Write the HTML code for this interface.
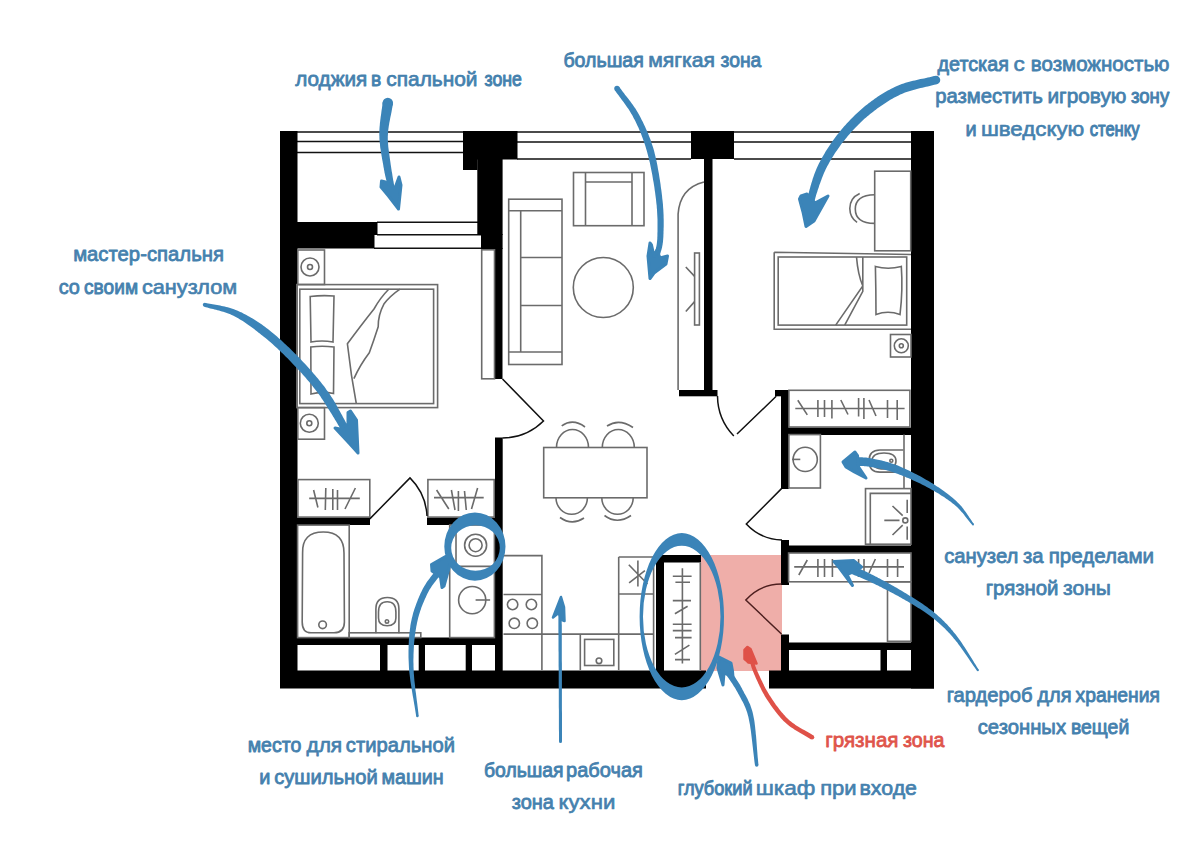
<!DOCTYPE html>
<html><head><meta charset="utf-8">
<style>
html,body{margin:0;padding:0;background:#fff;width:1203px;height:865px;overflow:hidden}
svg{display:block}
.t{font-family:"Liberation Sans",sans-serif;font-weight:normal;font-size:21px;fill:#4581ae;stroke:#4581ae;stroke-width:0.8;stroke-linejoin:round}
.f{fill:none;stroke:#6b6b6b;stroke-width:1.6}
.d{fill:none;stroke:#111;stroke-width:1.5}
.w{fill:#000}
.t.r{fill:#df544b;stroke:#df544b}
.a{fill:none;stroke:#3b84b8;stroke-linecap:round;stroke-linejoin:round}
</style></head><body>
<svg width="1203" height="865" viewBox="0 0 1203 865">
<rect width="1203" height="865" fill="#fff"/>

<!-- pink dirty zone -->
<rect x="701" y="555" width="81" height="116" fill="#efaea9"/>

<!-- WINDOW LINES -->
<g stroke="#111" stroke-width="1.4" fill="none">
<path d="M297 132H463M297 141.5H463M297 152.5H463"/>
<path d="M517 132H691M517 142H691M517 159H691"/>
<path d="M734 132H911M734 142H911M734 159H911"/>
<path d="M377 222.3H478M377 234.7H481M374 248.3H495"/>
</g>

<!-- WALLS -->
<g class="w">
<rect x="280" y="131" width="17.5" height="557"/>
<rect x="463" y="131" width="54.5" height="28.5"/>
<rect x="463" y="131" width="14.5" height="39"/>
<rect x="477.3" y="131" width="25.3" height="104"/>
<rect x="481" y="234" width="21.6" height="15"/>
<rect x="494.5" y="248" width="8" height="131"/>
<rect x="297" y="222" width="80.5" height="13"/>
<rect x="297" y="234.5" width="77.5" height="14"/>
<rect x="691" y="131" width="43" height="28"/>
<rect x="704" y="158" width="8.5" height="238"/>
<rect x="679" y="390" width="38.5" height="6.3"/>
<rect x="911" y="131" width="23" height="557.5"/>
<rect x="775" y="390" width="14" height="6.3"/>
<rect x="781" y="390" width="8" height="99"/>
<rect x="781" y="427.5" width="130" height="7.5"/>
<rect x="781" y="540" width="8" height="45"/>
<rect x="781" y="545.5" width="130" height="7.5"/>
<rect x="781" y="634.5" width="8" height="40"/>
<rect x="781" y="642.5" width="130" height="7.5"/>
<rect x="880.5" y="649" width="6.5" height="23"/>
<rect x="280" y="670.5" width="426" height="18"/>
<rect x="769" y="670.5" width="165" height="18"/>
<rect x="495" y="437.5" width="7.7" height="234"/>
<rect x="297" y="517.5" width="73" height="7.5"/>
<rect x="427" y="517.5" width="68" height="7.5"/>
<rect x="297" y="637.5" width="198" height="7.5"/>
<rect x="380" y="644" width="7.5" height="27"/>
<rect x="418.7" y="644" width="6.3" height="27"/>
<rect x="465.7" y="644" width="6.3" height="27"/>
<rect x="656" y="555" width="45" height="7.5"/>
<rect x="656" y="555" width="8" height="116"/>
</g>


<!-- FURNITURE -->
<g class="f">
<!-- master bedroom -->
<rect x="297.8" y="250" width="26.7" height="34.5"/>
<circle cx="310" cy="267" r="9"/><circle cx="310" cy="267" r="2.5"/>
<rect x="296.8" y="284.6" width="140.8" height="123"/>
<rect x="299.8" y="289.2" width="133.8" height="114.4"/>
<path d="M310.2 296.5Q322 295 334 296L333 342Q322 340 311 342Z"/>
<path d="M310.8 347Q322 345.5 334 347L333.5 393.5Q322 391 311 394Z"/>
<path d="M388.7 289.2Q380 298 374 309Q362 324 347.4 343.8L351.5 375.3L356.3 403.6"/>
<path d="M400 289.2Q390 296 383.9 304.1Q378 315 378.2 326.8Q374 340 369.3 352.7Q360 365 353.9 378.6"/>
<rect x="297.8" y="407.6" width="26.7" height="31.6"/>
<circle cx="309.3" cy="423.3" r="9"/><circle cx="309.3" cy="423.3" r="2.5"/>
<rect x="481.7" y="249.8" width="12.8" height="129"/>
<!-- wardrobes master -->
<rect x="297.9" y="479.6" width="71.9" height="37.5"/>
<path d="M309.2 498.4H359.8M313.6 490L317.9 507.5M325.8 488L325.3 510M332.8 489V510M337.5 490V510M355.4 488L345 509"/>
<rect x="427.9" y="479.6" width="66.3" height="37.5"/>
<path d="M434 497.6H483.7M436.6 490L448.8 509M451.4 490L455 510M458.4 491V511M464.5 491L466.3 510M477.6 488L471.5 509"/>
<!-- master bath -->
<rect x="297.6" y="525.1" width="51.6" height="112.5"/>
<path d="M302.6 553Q302 532 323.3 532Q344 532 344 553L344.4 622Q344.4 632.8 334 632.8H311Q302.2 632.8 302.2 622Z"/>
<circle cx="322.6" cy="624.8" r="3.8"/>
<path d="M375.9 633.3V609Q375.9 597.5 387.4 597.5Q398.9 597.5 398.9 609V633.3"/>
<path d="M378.5 612Q378.5 601.8 387.2 601.8Q395.9 601.8 395.9 612V618Q395.9 625.7 387.2 625.7Q378.5 625.7 378.5 618Z"/>
<circle cx="387" cy="621.4" r="1.7"/>
<rect x="349.2" y="632.8" width="71.6" height="4.8"/>
<rect x="449.7" y="525" width="44.7" height="112.6"/>
<path d="M449.7 566.4H494.4M456 525V566.4"/>
<circle cx="475.6" cy="545.2" r="11"/><circle cx="475.6" cy="545.2" r="6.5"/>
<circle cx="472.2" cy="600.1" r="13.6"/>
<path d="M475.6 600H490.1"/>
<!-- living -->
<rect x="508.7" y="199.2" width="53.3" height="165.3"/>
<path d="M508.7 210.7H562M508.7 352H562M520.7 210.7V352M520.7 257.5H562M520.7 305.5H562"/>
<rect x="573.5" y="172.5" width="70.5" height="53.2"/>
<path d="M585.5 172.5V225.7M632 172.5V225.7M585.5 182H632"/>
<circle cx="603.3" cy="287.5" r="30"/>
<path d="M678.1 390V214Q680 188 704 182"/>
<rect x="694.6" y="253" width="4.8" height="72"/>
<path d="M685.8 267L694.6 276.4M685.8 311.5L694.6 301.6"/>
<!-- dining -->
<rect x="543.7" y="447.5" width="103.3" height="50.3"/>
<path d="M556.5 447.5A16 18 0 0 1 588.5 447.5"/>
<path d="M602.3 447.5A16 18 0 0 1 634.3 447.5"/>
<path d="M561.7 425.8Q573 418 585 427M607 426Q619 418 633 427.5"/>
<path d="M556 497.8A15.7 16.5 0 0 0 587.4 497.8"/>
<path d="M601.8 497.8A15.7 16.5 0 0 0 633.2 497.8"/>
<path d="M560 517.5Q572 526 584 518M604.5 515.5Q617 525 631 515.5"/>
<!-- kids room -->
<rect x="874.7" y="171.2" width="36" height="79.6"/>
<path d="M874.7 194.7Q855.3 195 855.3 209Q855.3 223.4 874.7 223.4"/>
<path d="M859.7 193.5Q849.8 198 849.8 208.6Q850 218 857.1 222.4"/>
<path d="M774.2 252.2L911 254.5M774.2 252.2V329.3H911"/>
<rect x="778.2" y="257" width="128.5" height="68.1"/>
<path d="M875.4 266.4Q888 270 901.3 266.4Q903 290 900 314.6Q888 310 876 314.6Q876 290 875.4 266.4Z"/>
<path d="M856.5 257Q858 275 862.8 286L835.7 325.1M862.8 257V291.4L844.7 325.1"/>
<rect x="890.5" y="334.5" width="20.5" height="22.5"/>
<circle cx="901.3" cy="345.8" r="7"/><circle cx="901.3" cy="345.8" r="2"/>
<rect x="788.9" y="390.3" width="121" height="36.7"/>
<path d="M795.3 408.5H904.6M797.8 400.3L807.3 414.9M817.9 400V417M824.5 400V417M831.9 400V418.5M840.8 400L848 414.5M858.6 398V416.5M863.9 398V419M869 400L876 416M887.5 400V418M897.2 400V420"/>
<!-- hall bath -->
<rect x="788.9" y="434.6" width="31.5" height="53.4"/>
<circle cx="805.2" cy="459.4" r="12.1"/>
<path d="M792 459.4H800.3"/>
<path d="M903.4 450H880Q869 450 869 461Q869 472.1 880 472.1H903.4"/>
<path d="M896 461Q896 453 884 453Q872 453 872 461Q872 469 884 469Q896 469 896 461Z"/>
<circle cx="891.3" cy="460.7" r="1.5"/>
<path d="M904 434.6V488"/>
<rect x="865.5" y="488.6" width="45.5" height="55.6"/>
<path d="M870.3 544.2V493.4H911"/>
<circle cx="905.3" cy="520.4" r="2.5"/>
<path d="M884.3 520.4H899.5M892.5 506L902.7 515.6M892.5 535L902.7 525.1M907.2 499.7V513M907.2 526.4V539.8"/>
<rect x="788.6" y="553" width="122.4" height="28.8"/>
<path d="M794.2 566.9H904M807.3 560L798.8 575M817.9 559V577M824.5 559V577M832.4 559V577M858.6 559V577M864 559V577M875.4 559L869 573M887.5 559V577M897.6 559V577"/>
<rect x="887.5" y="581.8" width="23.5" height="59.5"/>
<!-- kitchen -->
<path d="M503.5 555.6H541.9V670M503.5 594.5H541.9M503.5 634.1H653.6M580.3 634.1V670M618.7 557V670M618.7 557H653.6V670M618.7 594H653.6"/>
<circle cx="512.6" cy="604.5" r="5.2"/><circle cx="531.4" cy="604.5" r="5.2"/>
<circle cx="514.3" cy="623.3" r="5.2"/><circle cx="532.3" cy="623.3" r="5.2"/>
<rect x="584.6" y="639.4" width="29.2" height="26.1"/>
<circle cx="599" cy="660.8" r="2.8"/>
<path d="M637.9 560.5V586.6M628.8 564.8L647.5 584M629.1 582.8L644.9 570.6"/>
<!-- closet -->
<path d="M700.3 562.6V670"/>
<path d="M682.4 568.3V663.4M672.8 576.2H691.6M675.4 582.3H690M672.8 600.6H691M674.9 613.7L687.6 606.2M672.8 624.2H691.6M672.8 630.6H691.6M675 637.6H691.6M674.9 654.4L689.4 645.1M675 659.6H690"/>
</g>
<!-- DOORS -->
<g class="d">
<path d="M502.5 379L543.5 421A59 59 0 0 1 502.5 438"/>
<path d="M369.8 518.9L410 477.9A57.4 57.4 0 0 1 427 516"/>
<path d="M717.5 396A58.5 58.5 0 0 0 733.8 436M737 434L776.2 396.3"/>
<path d="M781.5 488.6L746.3 524A50.5 50.5 0 0 0 782 540"/>
<path d="M781.5 584A48.5 48.5 0 0 0 745.8 600L781.5 634" stroke="#4d1f1f"/>
</g>

<!-- ARROWS -->
<g fill="#3b84b8">
<path d="M382.6 102.3 L382.4 103.9 L382.3 105.4 L382.1 107.0 L381.9 108.6 L381.6 110.2 L381.4 111.8 L381.2 113.5 L381.0 115.1 L380.7 116.7 L380.5 118.4 L380.3 120.0 L380.1 121.7 L379.9 123.3 L379.8 125.0 L379.6 126.7 L379.5 128.3 L379.4 130.0 L379.4 131.6 L379.3 133.3 L379.3 134.9 L379.4 136.6 L379.4 138.2 L379.5 139.8 L379.7 141.5 L379.8 143.1 L380.0 144.7 L380.1 146.3 L380.3 147.9 L380.6 149.4 L380.8 151.0 L381.0 152.5 L381.3 154.0 L381.5 155.6 L381.8 157.0 L382.0 158.5 L382.3 160.0 L382.6 161.4 L382.8 162.8 L383.1 164.2 L383.3 165.6 L383.5 167.0 L383.8 168.3 L384.0 169.7 L384.3 171.1 L384.5 172.5 L384.8 173.8 L385.1 175.2 L385.4 176.5 L385.7 177.8 L386.0 179.1 L386.3 180.4 L386.6 181.7 L386.9 182.9 L387.2 184.1 L387.5 185.3 L387.8 186.4 L388.1 187.6 L388.4 188.7 L388.7 189.7 L389.0 190.7 L389.3 191.7 L389.6 192.7 L389.9 193.6 L390.2 194.5 L390.5 195.3 L390.8 196.1 L391.1 196.9 L391.3 197.6 L391.6 198.4 L391.9 199.1 L392.2 199.8 L392.5 200.4 L392.7 201.1 L393.0 201.7 L393.3 202.4 L393.6 203.1 L393.8 203.7 L394.1 204.4 L394.4 205.1 L394.6 205.8 L399.4 204.2 L399.1 203.4 L398.9 202.7 L398.7 202.0 L398.4 201.3 L398.2 200.6 L398.0 199.9 L397.8 199.2 L397.5 198.5 L397.3 197.9 L397.1 197.2 L396.9 196.5 L396.7 195.8 L396.4 195.1 L396.2 194.3 L396.0 193.6 L395.8 192.8 L395.6 192.0 L395.4 191.1 L395.2 190.2 L395.0 189.3 L394.8 188.2 L394.5 187.2 L394.3 186.1 L394.1 185.0 L393.9 183.9 L393.7 182.7 L393.5 181.5 L393.2 180.3 L393.0 179.0 L392.8 177.7 L392.6 176.5 L392.4 175.2 L392.2 173.8 L392.0 172.5 L391.7 171.2 L391.5 169.8 L391.3 168.5 L391.1 167.1 L390.9 165.8 L390.7 164.4 L390.5 163.0 L390.3 161.6 L390.1 160.2 L389.9 158.7 L389.7 157.3 L389.5 155.8 L389.3 154.3 L389.0 152.9 L388.9 151.4 L388.7 149.9 L388.5 148.4 L388.3 146.9 L388.2 145.4 L388.1 143.9 L388.0 142.4 L387.9 140.9 L387.8 139.5 L387.8 138.0 L387.8 136.5 L387.9 135.1 L388.0 133.6 L388.1 132.1 L388.2 130.6 L388.4 129.1 L388.6 127.6 L388.8 126.1 L389.1 124.6 L389.3 123.0 L389.6 121.4 L389.9 119.9 L390.2 118.3 L390.5 116.7 L390.9 115.1 L391.2 113.5 L391.5 111.9 L391.8 110.2 L392.1 108.6 L392.4 107.0 L392.7 105.3 L393.0 103.7Z"/>
<circle cx="387.8" cy="103" r="5.25"/>
<path d="M381.5 181 L385.5 182 L395 188 L399 177 L401 185 L398.5 209 L388.5 196 L381 187Z" stroke="#3b84b8" stroke-width="3" stroke-linejoin="round"/>
<path d="M614.8 90.1 L615.7 91.5 L616.7 92.9 L617.7 94.3 L618.7 95.6 L619.7 97.0 L620.7 98.3 L621.7 99.7 L622.7 101.0 L623.7 102.3 L624.7 103.7 L625.6 105.0 L626.6 106.4 L627.5 107.7 L628.5 109.1 L629.4 110.5 L630.3 111.9 L631.1 113.4 L632.0 114.8 L632.8 116.3 L633.6 117.9 L634.5 119.5 L635.3 121.1 L636.1 122.7 L636.8 124.3 L637.6 126.0 L638.4 127.6 L639.1 129.3 L639.8 131.0 L640.6 132.8 L641.3 134.5 L641.9 136.3 L642.6 138.1 L643.3 139.9 L643.9 141.8 L644.6 143.7 L645.2 145.6 L645.8 147.5 L646.4 149.5 L647.0 151.6 L647.5 153.6 L648.1 155.7 L648.7 157.9 L649.2 160.2 L649.8 162.5 L650.3 164.9 L650.8 167.4 L651.3 169.9 L651.8 172.4 L652.3 174.9 L652.7 177.5 L653.1 180.1 L653.6 182.6 L654.0 185.1 L654.4 187.6 L654.7 190.1 L655.1 192.5 L655.4 194.9 L655.7 197.2 L656.0 199.4 L656.2 201.5 L656.4 203.6 L656.7 205.7 L656.8 207.7 L657.0 209.8 L657.1 211.8 L657.2 213.8 L657.3 215.7 L657.4 217.6 L657.5 219.5 L657.5 221.4 L657.5 223.2 L657.5 225.0 L657.5 226.7 L657.5 228.4 L657.5 230.1 L657.5 231.7 L657.4 233.2 L657.4 234.7 L657.4 236.1 L657.3 237.5 L657.3 238.7 L657.2 239.9 L657.1 240.9 L657.0 241.9 L656.9 242.8 L656.8 243.7 L656.7 244.5 L656.6 245.2 L656.4 246.0 L656.3 246.7 L656.1 247.3 L656.0 248.0 L655.8 248.7 L655.6 249.4 L655.4 250.1 L655.2 250.9 L655.0 251.7 L654.8 252.5 L654.5 253.4 L654.3 254.3 L654.1 255.3 L653.9 256.2 L653.6 257.1 L653.4 258.1 L653.1 259.1 L652.8 260.0 L652.5 261.0 L652.2 262.0 L652.0 263.0 L651.7 264.1 L651.3 265.1 L651.0 266.1 L650.7 267.1 L650.4 268.1 L650.1 269.2 L649.8 270.2 L649.5 271.2 L649.2 272.2 L648.9 273.3 L648.6 274.3 L653.4 275.7 L653.7 274.7 L654.0 273.7 L654.4 272.7 L654.7 271.7 L655.0 270.7 L655.3 269.7 L655.7 268.7 L656.0 267.7 L656.4 266.6 L656.7 265.6 L657.0 264.6 L657.3 263.6 L657.7 262.6 L658.0 261.6 L658.3 260.6 L658.6 259.6 L658.9 258.6 L659.2 257.6 L659.4 256.6 L659.7 255.7 L659.9 254.8 L660.1 254.0 L660.4 253.2 L660.6 252.4 L660.8 251.7 L661.0 251.0 L661.3 250.2 L661.5 249.5 L661.7 248.8 L661.9 248.0 L662.1 247.2 L662.2 246.4 L662.4 245.5 L662.6 244.6 L662.7 243.6 L662.9 242.6 L663.0 241.5 L663.1 240.3 L663.2 239.1 L663.3 237.7 L663.4 236.3 L663.4 234.9 L663.5 233.4 L663.5 231.8 L663.6 230.2 L663.6 228.5 L663.7 226.8 L663.7 225.0 L663.7 223.2 L663.7 221.3 L663.7 219.4 L663.6 217.5 L663.6 215.5 L663.5 213.5 L663.4 211.4 L663.3 209.4 L663.1 207.3 L663.0 205.1 L662.8 203.0 L662.6 200.9 L662.3 198.7 L662.1 196.4 L661.8 194.1 L661.5 191.6 L661.2 189.2 L660.8 186.7 L660.5 184.1 L660.1 181.6 L659.7 179.0 L659.3 176.4 L658.9 173.8 L658.4 171.2 L657.9 168.6 L657.5 166.1 L657.0 163.6 L656.5 161.1 L655.9 158.7 L655.4 156.3 L654.8 154.0 L654.3 151.8 L653.7 149.6 L653.1 147.5 L652.4 145.5 L651.7 143.5 L651.1 141.5 L650.4 139.5 L649.6 137.6 L648.9 135.7 L648.2 133.8 L647.4 132.0 L646.6 130.2 L645.8 128.4 L645.1 126.7 L644.2 124.9 L643.4 123.2 L642.6 121.5 L641.7 119.9 L640.9 118.2 L640.0 116.6 L639.2 114.9 L638.2 113.3 L637.3 111.7 L636.4 110.2 L635.4 108.6 L634.4 107.2 L633.4 105.7 L632.4 104.3 L631.4 102.9 L630.4 101.5 L629.4 100.2 L628.3 98.8 L627.3 97.5 L626.3 96.2 L625.2 94.9 L624.2 93.6 L623.2 92.3 L622.2 90.9 L621.2 89.6 L620.2 88.3 L619.2 86.9Z"/>
<circle cx="617" cy="88.5" r="2.75"/>
<path d="M650 243 L651.5 245 L654 256 L657 250 L660 258 L667.5 256 L666 264 L654 273 L650 278.5 L648 256Z" stroke="#3b84b8" stroke-width="3" stroke-linejoin="round"/>
<path d="M934.9 75.9 L933.1 76.3 L931.4 76.8 L929.6 77.2 L927.8 77.6 L926.0 78.0 L924.1 78.4 L922.3 78.7 L920.4 79.1 L918.6 79.5 L916.7 79.9 L914.9 80.4 L913.0 80.8 L911.1 81.3 L909.3 81.8 L907.4 82.3 L905.5 82.8 L903.7 83.4 L901.8 84.1 L900.0 84.8 L898.2 85.5 L896.4 86.3 L894.7 87.1 L892.9 87.9 L891.2 88.8 L889.5 89.7 L887.8 90.6 L886.1 91.6 L884.4 92.5 L882.8 93.5 L881.1 94.5 L879.5 95.6 L877.9 96.6 L876.3 97.7 L874.7 98.8 L873.2 99.9 L871.6 101.0 L870.1 102.2 L868.6 103.3 L867.2 104.5 L865.7 105.6 L864.2 106.8 L862.8 108.0 L861.4 109.2 L860.0 110.5 L858.6 111.7 L857.2 113.0 L855.8 114.3 L854.5 115.6 L853.1 116.9 L851.8 118.2 L850.5 119.5 L849.2 120.9 L848.0 122.2 L846.7 123.6 L845.5 125.0 L844.2 126.3 L843.0 127.7 L841.9 129.1 L840.7 130.5 L839.5 131.9 L838.4 133.4 L837.2 134.8 L836.1 136.3 L835.0 137.8 L833.9 139.3 L832.8 140.8 L831.7 142.3 L830.6 143.9 L829.6 145.4 L828.6 147.0 L827.6 148.5 L826.6 150.1 L825.6 151.6 L824.7 153.2 L823.8 154.7 L822.9 156.3 L822.0 157.8 L821.2 159.3 L820.4 160.8 L819.6 162.3 L818.8 163.8 L818.1 165.3 L817.4 166.8 L816.7 168.3 L816.1 169.8 L815.5 171.3 L814.9 172.8 L814.3 174.2 L813.8 175.7 L813.3 177.2 L812.8 178.6 L812.4 180.0 L812.0 181.4 L811.5 182.8 L811.1 184.2 L810.7 185.6 L810.3 186.9 L810.0 188.3 L809.6 189.6 L809.2 190.9 L808.9 192.2 L808.5 193.5 L808.2 194.7 L807.9 196.0 L807.6 197.2 L807.4 198.4 L807.2 199.6 L806.9 200.8 L806.7 201.9 L806.5 203.1 L806.3 204.2 L806.1 205.4 L805.9 206.5 L805.8 207.6 L805.6 208.7 L805.4 209.8 L805.2 210.9 L805.0 212.0 L804.8 213.1 L804.6 214.3 L811.4 215.7 L811.7 214.6 L811.9 213.4 L812.2 212.3 L812.4 211.1 L812.7 210.0 L812.9 208.9 L813.1 207.8 L813.4 206.7 L813.6 205.6 L813.8 204.5 L814.0 203.4 L814.3 202.3 L814.5 201.2 L814.8 200.1 L815.1 199.0 L815.4 197.8 L815.7 196.7 L816.0 195.5 L816.4 194.3 L816.8 193.1 L817.2 191.9 L817.6 190.6 L818.0 189.3 L818.5 188.0 L818.9 186.7 L819.3 185.3 L819.8 184.0 L820.3 182.7 L820.8 181.3 L821.3 180.0 L821.8 178.6 L822.3 177.2 L822.8 175.9 L823.4 174.5 L824.0 173.1 L824.6 171.8 L825.2 170.4 L825.8 169.0 L826.5 167.7 L827.2 166.3 L828.0 164.9 L828.8 163.5 L829.6 162.1 L830.4 160.6 L831.3 159.2 L832.1 157.7 L833.1 156.3 L834.0 154.8 L834.9 153.3 L835.9 151.8 L836.9 150.4 L837.9 148.9 L839.0 147.5 L840.0 146.0 L841.0 144.6 L842.1 143.1 L843.2 141.7 L844.3 140.4 L845.4 139.0 L846.5 137.7 L847.6 136.3 L848.7 135.0 L849.9 133.7 L851.0 132.3 L852.2 131.0 L853.4 129.7 L854.6 128.5 L855.8 127.2 L857.1 125.9 L858.3 124.7 L859.6 123.4 L860.8 122.2 L862.1 121.0 L863.4 119.8 L864.7 118.6 L866.1 117.4 L867.4 116.3 L868.8 115.2 L870.1 114.1 L871.5 113.0 L872.9 111.9 L874.3 110.8 L875.8 109.7 L877.2 108.6 L878.7 107.6 L880.2 106.5 L881.7 105.5 L883.2 104.5 L884.7 103.5 L886.2 102.5 L887.7 101.5 L889.2 100.6 L890.8 99.6 L892.3 98.7 L893.9 97.8 L895.5 97.0 L897.0 96.2 L898.6 95.4 L900.2 94.6 L901.8 93.9 L903.4 93.2 L905.0 92.6 L906.6 92.0 L908.3 91.4 L910.0 90.9 L911.7 90.4 L913.4 89.9 L915.2 89.4 L916.9 89.0 L918.7 88.5 L920.5 88.1 L922.3 87.7 L924.2 87.3 L926.0 86.8 L927.8 86.4 L929.7 86.0 L931.5 85.5 L933.4 85.1 L935.3 84.6 L937.1 84.1Z"/>
<circle cx="936" cy="80" r="4.25"/>
<path d="M801 196 L807 194 L815 203 L828 196 L814 221 L806 226.5 L803 212 L799.5 199Z" stroke="#3b84b8" stroke-width="3" stroke-linejoin="round"/>
<path d="M204.3 306.7 L205.8 307.2 L207.3 307.6 L208.7 308.0 L210.2 308.4 L211.7 308.8 L213.2 309.1 L214.6 309.5 L216.1 309.8 L217.5 310.2 L219.0 310.6 L220.4 311.0 L221.9 311.4 L223.3 311.8 L224.7 312.2 L226.1 312.7 L227.5 313.2 L228.9 313.7 L230.3 314.3 L231.7 314.9 L233.0 315.5 L234.4 316.3 L235.8 317.0 L237.2 317.8 L238.6 318.6 L240.0 319.4 L241.4 320.3 L242.8 321.1 L244.2 322.1 L245.6 323.0 L247.0 324.0 L248.4 325.0 L249.9 326.0 L251.3 327.0 L252.7 328.1 L254.1 329.1 L255.5 330.2 L256.9 331.3 L258.3 332.5 L259.8 333.6 L261.2 334.7 L262.6 335.8 L264.1 336.9 L265.5 338.1 L267.0 339.3 L268.4 340.5 L269.9 341.8 L271.4 343.1 L272.8 344.3 L274.3 345.7 L275.7 347.0 L277.2 348.3 L278.6 349.7 L280.1 351.1 L281.5 352.4 L283.0 353.8 L284.4 355.2 L285.8 356.7 L287.3 358.1 L288.7 359.5 L290.1 361.0 L291.5 362.4 L292.9 363.9 L294.3 365.4 L295.8 366.9 L297.2 368.4 L298.6 370.0 L300.0 371.5 L301.5 373.1 L302.9 374.7 L304.3 376.3 L305.7 377.8 L307.0 379.4 L308.4 381.0 L309.7 382.6 L311.0 384.2 L312.3 385.8 L313.6 387.4 L314.8 388.9 L316.0 390.5 L317.1 392.0 L318.3 393.5 L319.4 395.0 L320.5 396.6 L321.5 398.2 L322.6 399.8 L323.6 401.3 L324.6 402.9 L325.6 404.5 L326.6 406.1 L327.6 407.7 L328.6 409.2 L329.6 410.8 L330.5 412.3 L331.5 413.8 L332.4 415.2 L333.2 416.7 L334.1 418.1 L334.9 419.4 L335.7 420.7 L336.5 422.0 L337.2 423.2 L337.9 424.4 L338.5 425.5 L339.1 426.5 L339.7 427.5 L340.2 428.5 L340.8 429.5 L341.3 430.4 L341.7 431.4 L342.2 432.3 L342.6 433.2 L343.1 434.1 L343.5 435.0 L344.0 435.9 L344.4 436.8 L344.9 437.7 L345.4 438.6 L345.8 439.6 L346.3 440.6 L346.9 441.6 L353.1 438.4 L352.7 437.5 L352.2 436.5 L351.8 435.6 L351.4 434.6 L351.0 433.7 L350.6 432.8 L350.2 431.9 L349.8 431.0 L349.4 430.0 L349.0 429.1 L348.5 428.1 L348.1 427.1 L347.6 426.1 L347.1 425.0 L346.6 424.0 L346.1 422.9 L345.5 421.7 L344.9 420.5 L344.2 419.3 L343.5 418.0 L342.8 416.7 L342.1 415.3 L341.3 413.9 L340.5 412.5 L339.7 411.0 L338.8 409.4 L338.0 407.9 L337.1 406.3 L336.2 404.7 L335.3 403.0 L334.3 401.4 L333.3 399.8 L332.2 398.1 L331.1 396.5 L330.1 394.8 L328.9 393.1 L327.8 391.5 L326.6 389.9 L325.5 388.2 L324.3 386.6 L323.0 385.0 L321.8 383.4 L320.5 381.8 L319.2 380.2 L317.9 378.6 L316.5 376.9 L315.1 375.3 L313.7 373.7 L312.3 372.1 L310.9 370.4 L309.4 368.8 L308.0 367.2 L306.5 365.6 L305.1 364.0 L303.6 362.4 L302.1 360.9 L300.7 359.3 L299.2 357.8 L297.8 356.3 L296.3 354.8 L294.9 353.4 L293.4 351.9 L291.9 350.5 L290.5 349.0 L289.0 347.6 L287.5 346.2 L286.0 344.8 L284.5 343.4 L283.0 342.0 L281.5 340.6 L280.0 339.3 L278.5 337.9 L277.0 336.6 L275.5 335.3 L274.0 334.0 L272.4 332.7 L270.9 331.5 L269.4 330.3 L267.9 329.1 L266.4 327.9 L264.9 326.8 L263.4 325.7 L261.9 324.6 L260.3 323.6 L258.8 322.5 L257.2 321.5 L255.7 320.5 L254.2 319.6 L252.6 318.6 L251.1 317.7 L249.5 316.8 L248.0 315.9 L246.4 315.1 L244.9 314.2 L243.3 313.4 L241.8 312.6 L240.2 311.9 L238.7 311.2 L237.1 310.5 L235.6 309.9 L234.0 309.2 L232.4 308.7 L230.9 308.2 L229.3 307.7 L227.7 307.3 L226.2 306.9 L224.7 306.5 L223.1 306.2 L221.6 305.9 L220.1 305.6 L218.6 305.3 L217.1 305.1 L215.6 304.8 L214.1 304.6 L212.6 304.3 L211.2 304.0 L209.7 303.8 L208.2 303.5 L206.8 303.2 L205.3 302.9Z"/>
<circle cx="204.8" cy="304.8" r="2.00"/>
<path d="M335 428 L340 429 L348 424 L348 412.5 L350.5 411 L356.5 420 L358 453 L349 443Z" stroke="#3b84b8" stroke-width="3" stroke-linejoin="round"/>
<path d="M418.6 715.8 L418.4 713.3 L418.1 710.8 L417.8 708.3 L417.5 705.7 L417.2 703.2 L416.8 700.6 L416.5 698.1 L416.2 695.5 L415.9 693.0 L415.5 690.4 L415.2 687.9 L415.0 685.4 L414.7 682.9 L414.4 680.4 L414.2 678.0 L414.0 675.5 L413.8 673.2 L413.7 670.8 L413.6 668.5 L413.5 666.2 L413.5 663.9 L413.4 661.7 L413.4 659.5 L413.5 657.2 L413.5 655.0 L413.6 652.8 L413.7 650.7 L413.8 648.5 L413.9 646.4 L414.0 644.3 L414.2 642.2 L414.4 640.2 L414.6 638.2 L414.8 636.2 L415.1 634.2 L415.4 632.2 L415.7 630.3 L416.0 628.4 L416.3 626.6 L416.7 624.7 L417.0 622.9 L417.4 621.2 L417.8 619.4 L418.2 617.7 L418.7 616.0 L419.2 614.3 L419.7 612.7 L420.2 611.0 L420.8 609.4 L421.3 607.8 L421.9 606.3 L422.5 604.7 L423.1 603.2 L423.8 601.7 L424.4 600.2 L425.0 598.8 L425.7 597.4 L426.3 596.0 L427.0 594.6 L427.6 593.3 L428.3 592.0 L428.9 590.8 L429.6 589.6 L430.3 588.5 L431.0 587.4 L431.7 586.3 L432.4 585.3 L433.2 584.3 L433.9 583.2 L434.7 582.2 L435.5 581.2 L436.2 580.2 L437.0 579.2 L437.8 578.2 L438.6 577.2 L439.5 576.2 L440.3 575.1 L441.1 574.1 L441.9 573.0 L442.7 571.9 L437.3 568.1 L436.6 569.2 L435.9 570.2 L435.1 571.2 L434.3 572.2 L433.6 573.2 L432.8 574.3 L432.0 575.3 L431.2 576.3 L430.4 577.3 L429.6 578.4 L428.8 579.4 L428.0 580.5 L427.2 581.6 L426.4 582.8 L425.7 584.0 L424.9 585.2 L424.1 586.5 L423.4 587.8 L422.7 589.1 L422.0 590.5 L421.3 591.9 L420.6 593.3 L420.0 594.8 L419.3 596.3 L418.7 597.8 L418.0 599.3 L417.4 600.9 L416.8 602.5 L416.2 604.1 L415.6 605.7 L415.0 607.4 L414.4 609.1 L413.9 610.8 L413.3 612.6 L412.8 614.4 L412.4 616.2 L411.9 618.0 L411.5 619.9 L411.1 621.8 L410.7 623.7 L410.4 625.6 L410.2 627.5 L409.9 629.5 L409.7 631.5 L409.4 633.5 L409.2 635.6 L409.1 637.7 L408.9 639.7 L408.8 641.9 L408.7 644.0 L408.6 646.2 L408.6 648.3 L408.5 650.5 L408.5 652.8 L408.5 655.0 L408.5 657.2 L408.6 659.5 L408.7 661.8 L408.8 664.1 L408.9 666.4 L409.0 668.7 L409.2 671.1 L409.5 673.5 L409.8 676.0 L410.1 678.4 L410.4 680.9 L410.8 683.4 L411.2 685.9 L411.6 688.4 L412.0 690.9 L412.4 693.5 L412.8 696.0 L413.3 698.5 L413.7 701.1 L414.1 703.6 L414.6 706.2 L415.0 708.7 L415.4 711.2 L415.8 713.7 L416.2 716.2Z"/>
<circle cx="417.4" cy="716" r="1.25"/>
<path d="M431.5 564.5 L445.5 556.5 L451 558 L449 568 L444 586 L442 587.5 L440.5 577 L433.5 572 L432 571Z" stroke="#3b84b8" stroke-width="3" stroke-linejoin="round"/>
<path d="M562.0 741.5 L562.0 738.4 L562.0 735.3 L562.0 732.2 L562.0 729.0 L562.0 725.9 L562.0 722.7 L562.0 719.5 L562.0 716.3 L562.0 713.2 L561.9 710.0 L561.9 706.9 L561.9 703.8 L561.9 700.7 L561.9 697.6 L561.9 694.6 L561.9 691.6 L561.9 688.6 L561.9 685.7 L561.9 682.8 L561.9 680.0 L561.9 677.2 L561.9 674.4 L561.9 671.6 L561.9 668.9 L561.9 666.1 L561.9 663.4 L561.8 660.6 L561.8 658.0 L561.8 655.3 L561.8 652.7 L561.8 650.2 L561.8 647.6 L561.8 645.2 L561.8 642.8 L561.8 640.5 L561.8 638.2 L561.8 636.0 L561.8 633.9 L561.8 631.9 L561.8 630.0 L561.8 628.2 L561.8 626.5 L561.8 624.9 L561.7 623.4 L561.7 622.0 L561.7 620.7 L561.7 619.4 L561.7 618.2 L561.7 617.0 L561.7 615.9 L561.7 614.9 L561.7 613.8 L561.7 612.7 L561.7 611.7 L561.7 610.7 L561.7 609.6 L561.7 608.5 L561.7 607.4 L561.7 606.2 L561.7 605.0 L558.3 605.0 L558.3 606.2 L558.3 607.4 L558.3 608.5 L558.3 609.6 L558.3 610.7 L558.3 611.7 L558.3 612.8 L558.3 613.8 L558.4 614.9 L558.4 615.9 L558.4 617.1 L558.4 618.2 L558.4 619.4 L558.4 620.7 L558.4 622.0 L558.4 623.4 L558.4 624.9 L558.4 626.5 L558.4 628.2 L558.4 630.0 L558.4 631.9 L558.5 633.9 L558.5 636.0 L558.5 638.2 L558.5 640.5 L558.5 642.8 L558.5 645.2 L558.5 647.7 L558.5 650.2 L558.6 652.7 L558.6 655.3 L558.6 658.0 L558.6 660.7 L558.6 663.4 L558.6 666.1 L558.7 668.9 L558.7 671.6 L558.7 674.4 L558.7 677.2 L558.7 680.0 L558.7 682.8 L558.7 685.7 L558.8 688.6 L558.8 691.6 L558.8 694.6 L558.8 697.6 L558.8 700.7 L558.8 703.8 L558.8 706.9 L558.9 710.0 L558.9 713.2 L558.9 716.4 L558.9 719.5 L558.9 722.7 L558.9 725.9 L558.9 729.0 L559.0 732.2 L559.0 735.3 L559.0 738.4 L559.0 741.5Z"/>
<circle cx="560.5" cy="741.5" r="1.50"/>
<path d="M561 597 L564 607 L564.5 621 L562 620 L558.5 613 L553 617.5Z" stroke="#3b84b8" stroke-width="2.5" stroke-linejoin="round"/>
<path d="M758.4 764.8 L758.2 762.3 L758.0 759.9 L757.7 757.3 L757.5 754.7 L757.3 752.1 L757.1 749.5 L756.9 746.9 L756.7 744.3 L756.5 741.7 L756.3 739.1 L756.1 736.5 L755.8 734.0 L755.6 731.5 L755.3 729.1 L755.1 726.7 L754.8 724.4 L754.5 722.1 L754.2 720.0 L753.8 717.9 L753.4 715.9 L753.0 714.1 L752.6 712.3 L752.1 710.6 L751.6 709.0 L751.1 707.4 L750.6 706.0 L750.1 704.6 L749.5 703.2 L748.9 701.9 L748.3 700.7 L747.8 699.5 L747.2 698.3 L746.6 697.2 L746.0 696.1 L745.4 695.0 L744.8 693.9 L744.2 692.9 L743.7 691.8 L743.1 690.8 L742.5 689.7 L742.0 688.6 L741.4 687.4 L740.8 686.4 L740.2 685.3 L739.6 684.3 L738.9 683.3 L738.3 682.3 L737.7 681.3 L737.1 680.4 L736.5 679.5 L735.9 678.5 L735.3 677.6 L734.7 676.7 L734.1 675.8 L733.5 674.9 L732.9 674.0 L732.3 673.1 L731.7 672.2 L731.1 671.3 L730.5 670.4 L725.5 673.6 L726.1 674.6 L726.7 675.5 L727.3 676.4 L728.0 677.4 L728.6 678.3 L729.2 679.2 L729.8 680.1 L730.4 680.9 L731.0 681.8 L731.6 682.7 L732.2 683.6 L732.8 684.5 L733.4 685.4 L734.0 686.4 L734.6 687.3 L735.2 688.3 L735.8 689.2 L736.3 690.2 L736.9 691.3 L737.5 692.3 L738.1 693.4 L738.7 694.5 L739.3 695.6 L739.9 696.7 L740.5 697.7 L741.0 698.8 L741.6 699.9 L742.2 700.9 L742.8 702.0 L743.3 703.1 L743.9 704.3 L744.4 705.4 L745.0 706.7 L745.5 707.9 L746.0 709.3 L746.5 710.7 L747.0 712.1 L747.5 713.7 L747.9 715.3 L748.4 717.1 L748.8 718.9 L749.2 720.9 L749.6 722.9 L750.0 725.1 L750.3 727.3 L750.7 729.7 L751.0 732.0 L751.3 734.5 L751.6 737.0 L751.9 739.5 L752.2 742.1 L752.5 744.7 L752.8 747.3 L753.1 749.9 L753.4 752.5 L753.7 755.1 L754.0 757.7 L754.3 760.2 L754.6 762.7 L755.0 765.2Z"/>
<circle cx="756.7" cy="765" r="1.75"/>
<path d="M719 657 L731 663 L732.5 671 L733 677 L724 673 L723 685 L718 668Z" stroke="#3b84b8" stroke-width="3" stroke-linejoin="round"/>
<path d="M973.8 523.8 L973.0 522.7 L972.2 521.7 L971.5 520.6 L970.8 519.5 L970.1 518.5 L969.3 517.4 L968.6 516.3 L967.9 515.3 L967.2 514.2 L966.4 513.1 L965.7 512.0 L964.9 510.9 L964.1 509.9 L963.3 508.8 L962.5 507.7 L961.6 506.6 L960.6 505.6 L959.7 504.5 L958.7 503.4 L957.6 502.4 L956.5 501.3 L955.4 500.3 L954.2 499.3 L953.1 498.2 L951.9 497.2 L950.6 496.2 L949.4 495.2 L948.1 494.2 L946.8 493.2 L945.4 492.2 L944.1 491.2 L942.7 490.2 L941.3 489.2 L939.9 488.3 L938.5 487.3 L937.0 486.4 L935.6 485.4 L934.1 484.5 L932.7 483.6 L931.2 482.7 L929.7 481.7 L928.1 480.8 L926.5 479.9 L924.8 478.9 L923.2 478.0 L921.5 477.1 L919.8 476.1 L918.1 475.2 L916.3 474.3 L914.6 473.4 L912.8 472.5 L911.1 471.7 L909.4 470.8 L907.7 470.0 L906.0 469.2 L904.3 468.4 L902.6 467.7 L901.0 467.0 L899.4 466.3 L897.9 465.6 L896.4 465.0 L894.8 464.4 L893.3 463.9 L891.8 463.4 L890.3 462.9 L888.9 462.5 L887.4 462.1 L886.0 461.7 L884.6 461.3 L883.2 460.9 L881.8 460.6 L880.5 460.3 L879.2 460.0 L877.9 459.7 L876.6 459.4 L875.3 459.2 L874.1 458.9 L872.9 458.7 L871.8 458.5 L870.6 458.3 L869.5 458.1 L868.3 457.9 L867.3 457.7 L866.2 457.6 L865.2 457.5 L864.2 457.4 L863.2 457.4 L862.3 457.3 L861.4 457.3 L860.5 457.2 L859.6 457.2 L858.8 457.2 L857.9 457.2 L857.1 457.2 L856.3 457.2 L855.5 457.1 L854.7 457.1 L853.9 457.1 L853.1 457.1 L852.2 457.0 L851.8 466.0 L852.7 466.0 L853.6 466.1 L854.5 466.1 L855.4 466.1 L856.2 466.1 L857.1 466.1 L857.9 466.0 L858.7 466.0 L859.5 466.0 L860.3 466.0 L861.1 466.0 L861.9 466.1 L862.8 466.1 L863.6 466.1 L864.5 466.2 L865.3 466.2 L866.2 466.3 L867.2 466.4 L868.1 466.6 L869.2 466.7 L870.3 466.9 L871.4 467.1 L872.6 467.3 L873.8 467.5 L875.0 467.7 L876.2 467.9 L877.4 468.2 L878.7 468.4 L880.0 468.7 L881.3 469.0 L882.6 469.3 L883.9 469.6 L885.3 470.0 L886.6 470.3 L888.0 470.7 L889.4 471.1 L890.8 471.5 L892.2 472.0 L893.7 472.5 L895.1 473.0 L896.6 473.5 L898.1 474.1 L899.7 474.7 L901.4 475.3 L903.0 476.0 L904.7 476.6 L906.4 477.4 L908.1 478.1 L909.9 478.8 L911.6 479.6 L913.4 480.4 L915.1 481.2 L916.8 482.0 L918.5 482.8 L920.2 483.6 L921.9 484.5 L923.5 485.3 L925.1 486.1 L926.7 486.9 L928.2 487.7 L929.7 488.6 L931.2 489.4 L932.7 490.2 L934.2 491.1 L935.6 491.9 L937.0 492.8 L938.5 493.6 L939.9 494.5 L941.2 495.4 L942.6 496.3 L944.0 497.1 L945.3 498.0 L946.6 498.9 L947.9 499.8 L949.1 500.7 L950.4 501.6 L951.6 502.5 L952.7 503.4 L953.9 504.3 L955.0 505.2 L956.1 506.2 L957.1 507.1 L958.0 508.0 L959.0 509.0 L959.9 509.9 L960.8 510.9 L961.6 511.9 L962.5 512.8 L963.3 513.8 L964.1 514.8 L964.9 515.9 L965.7 516.9 L966.5 517.9 L967.3 518.9 L968.1 519.9 L968.9 520.9 L969.7 522.0 L970.5 523.0 L971.4 524.0 L972.2 525.0Z"/>
<circle cx="973" cy="524.4" r="1.00"/>
<path d="M855 452 L857.5 455.5 L858.6 467 L866 478 L854.4 472 L846 467 L843 462Z" stroke="#3b84b8" stroke-width="3" stroke-linejoin="round"/>
<path d="M978.7 669.7 L977.6 668.0 L976.5 666.3 L975.5 664.6 L974.4 662.9 L973.3 661.1 L972.2 659.3 L971.1 657.6 L970.0 655.8 L968.9 654.0 L967.8 652.3 L966.7 650.5 L965.6 648.8 L964.5 647.1 L963.4 645.4 L962.3 643.8 L961.2 642.1 L960.1 640.5 L959.0 639.0 L957.9 637.5 L956.8 636.0 L955.7 634.6 L954.6 633.2 L953.5 631.9 L952.5 630.6 L951.4 629.4 L950.4 628.1 L949.3 627.0 L948.2 625.8 L947.2 624.6 L946.1 623.5 L945.0 622.4 L944.0 621.3 L942.8 620.2 L941.7 619.1 L940.6 618.0 L939.4 617.0 L938.2 615.9 L937.0 614.8 L935.7 613.8 L934.4 612.7 L933.1 611.6 L931.7 610.5 L930.3 609.4 L928.8 608.4 L927.4 607.3 L925.9 606.2 L924.4 605.2 L922.8 604.1 L921.3 603.1 L919.7 602.1 L918.2 601.1 L916.6 600.1 L915.1 599.1 L913.5 598.1 L911.9 597.1 L910.4 596.2 L908.8 595.2 L907.3 594.3 L905.8 593.3 L904.3 592.4 L902.8 591.5 L901.2 590.6 L899.7 589.7 L898.1 588.7 L896.6 587.8 L895.0 586.9 L893.4 586.1 L891.9 585.2 L890.3 584.3 L888.8 583.5 L887.2 582.6 L885.7 581.8 L884.2 581.0 L882.7 580.2 L881.2 579.4 L879.7 578.6 L878.3 577.9 L876.9 577.1 L875.5 576.4 L874.2 575.7 L872.9 575.1 L871.6 574.4 L870.4 573.8 L869.2 573.2 L868.0 572.7 L866.8 572.1 L865.7 571.6 L864.5 571.1 L863.4 570.6 L862.3 570.1 L861.3 569.6 L860.2 569.2 L859.1 568.7 L858.1 568.2 L857.0 567.8 L855.9 567.3 L854.9 566.8 L853.8 566.3 L852.7 565.8 L851.6 565.3 L848.4 572.7 L849.5 573.1 L850.7 573.6 L851.8 574.1 L852.9 574.5 L854.0 575.0 L855.0 575.4 L856.1 575.8 L857.2 576.3 L858.3 576.7 L859.3 577.1 L860.4 577.6 L861.5 578.0 L862.6 578.5 L863.7 579.0 L864.9 579.5 L866.0 580.0 L867.2 580.5 L868.5 581.1 L869.7 581.6 L871.0 582.3 L872.3 582.9 L873.7 583.6 L875.1 584.2 L876.5 584.9 L878.0 585.6 L879.5 586.4 L881.0 587.1 L882.5 587.9 L884.0 588.7 L885.6 589.4 L887.2 590.2 L888.7 591.0 L890.3 591.9 L891.9 592.7 L893.4 593.5 L895.0 594.4 L896.5 595.2 L898.1 596.1 L899.6 596.9 L901.1 597.8 L902.6 598.7 L904.2 599.5 L905.7 600.4 L907.3 601.3 L908.9 602.2 L910.4 603.2 L912.0 604.1 L913.6 605.0 L915.1 606.0 L916.7 606.9 L918.2 607.9 L919.8 608.8 L921.3 609.8 L922.8 610.8 L924.3 611.7 L925.7 612.7 L927.1 613.7 L928.5 614.7 L929.9 615.7 L931.2 616.7 L932.5 617.7 L933.7 618.7 L935.0 619.7 L936.2 620.7 L937.3 621.7 L938.5 622.7 L939.6 623.7 L940.7 624.7 L941.8 625.7 L942.9 626.7 L944.0 627.8 L945.1 628.8 L946.1 629.9 L947.2 631.0 L948.3 632.2 L949.4 633.3 L950.5 634.5 L951.6 635.8 L952.7 637.1 L953.8 638.4 L955.0 639.8 L956.1 641.2 L957.3 642.6 L958.4 644.2 L959.6 645.7 L960.7 647.3 L961.9 648.9 L963.0 650.5 L964.2 652.2 L965.4 653.9 L966.5 655.6 L967.7 657.3 L968.9 659.0 L970.0 660.7 L971.2 662.4 L972.4 664.2 L973.6 665.9 L974.7 667.5 L975.9 669.2 L977.1 670.9Z"/>
<circle cx="977.9" cy="670.3" r="1.00"/>
<path d="M834 561.5 L853.5 560.5 L861.5 567 L856.6 570.4 L847 574.5 L852.5 585.5 L839.5 568Z" stroke="#3b84b8" stroke-width="3" stroke-linejoin="round"/>
<path fill-rule="evenodd" d="M444.29999999999995 546.6A30.6 34.1 0 1 0 505.5 546.6A30.6 34.1 0 1 0 444.29999999999995 546.6Z M451.2 548A24.3 22.85 0 1 0 499.8 548A24.3 22.85 0 1 0 451.2 548Z"/>
<path fill-rule="evenodd" d="M639.5999999999999 616.65A42.2 83.55 0 1 0 724.0 616.65A42.2 83.55 0 1 0 639.5999999999999 616.65Z M643.0 616.65A38.75 70.85 0 1 0 720.5 616.65A38.75 70.85 0 1 0 643.0 616.65Z"/>
</g>
<g fill="#df5148">
<path d="M813.2 735.4 L811.9 734.6 L810.7 733.8 L809.4 733.1 L808.1 732.3 L806.8 731.6 L805.5 730.8 L804.2 730.1 L803.0 729.4 L801.7 728.7 L800.4 727.9 L799.2 727.2 L798.0 726.4 L796.7 725.7 L795.5 724.9 L794.4 724.1 L793.2 723.3 L792.1 722.4 L791.0 721.6 L789.9 720.7 L788.8 719.7 L787.8 718.8 L786.7 717.7 L785.7 716.7 L784.7 715.6 L783.7 714.5 L782.7 713.3 L781.7 712.2 L780.7 711.0 L779.7 709.8 L778.8 708.6 L777.9 707.3 L776.9 706.1 L776.0 704.9 L775.1 703.6 L774.2 702.3 L773.4 701.1 L772.5 699.8 L771.7 698.6 L770.9 697.3 L770.1 696.1 L769.3 694.9 L768.5 693.6 L767.8 692.3 L767.0 691.0 L766.3 689.7 L765.5 688.4 L764.8 687.0 L764.1 685.7 L763.5 684.3 L762.8 683.0 L762.2 681.6 L761.5 680.3 L760.9 679.0 L760.3 677.8 L759.8 676.5 L759.2 675.3 L758.7 674.2 L758.2 673.0 L757.7 672.0 L757.3 671.0 L756.9 670.0 L756.5 669.2 L756.2 668.4 L755.9 667.6 L755.6 666.9 L755.4 666.2 L755.2 665.5 L755.0 664.9 L754.8 664.2 L754.6 663.6 L754.5 663.0 L754.3 662.5 L754.2 661.9 L754.0 661.3 L753.9 660.7 L753.7 660.1 L753.5 659.4 L753.3 658.8 L753.1 658.1 L752.9 657.4 L749.1 658.6 L749.3 659.3 L749.5 659.9 L749.6 660.5 L749.8 661.1 L750.0 661.7 L750.1 662.3 L750.2 662.9 L750.4 663.5 L750.6 664.1 L750.7 664.7 L750.9 665.3 L751.1 666.0 L751.3 666.7 L751.5 667.4 L751.8 668.2 L752.1 669.0 L752.4 669.8 L752.7 670.7 L753.1 671.6 L753.5 672.6 L753.9 673.6 L754.4 674.7 L754.9 675.8 L755.4 677.0 L755.9 678.2 L756.5 679.5 L757.1 680.8 L757.7 682.1 L758.3 683.5 L759.0 684.8 L759.6 686.2 L760.3 687.6 L761.0 689.0 L761.7 690.4 L762.4 691.8 L763.2 693.2 L764.0 694.5 L764.7 695.9 L765.5 697.2 L766.3 698.5 L767.1 699.8 L768.0 701.0 L768.8 702.3 L769.7 703.6 L770.6 704.9 L771.5 706.2 L772.4 707.5 L773.3 708.8 L774.3 710.0 L775.2 711.3 L776.2 712.6 L777.2 713.8 L778.2 715.1 L779.3 716.3 L780.3 717.5 L781.4 718.7 L782.4 719.8 L783.5 720.9 L784.7 722.0 L785.8 723.1 L786.9 724.1 L788.1 725.1 L789.3 726.0 L790.6 726.9 L791.8 727.8 L793.1 728.6 L794.3 729.5 L795.6 730.3 L796.9 731.0 L798.2 731.8 L799.4 732.6 L800.7 733.3 L802.0 734.0 L803.3 734.7 L804.6 735.5 L805.8 736.2 L807.1 736.9 L808.3 737.7 L809.6 738.4 L810.8 739.2Z"/>
<circle cx="812" cy="737.3" r="2.25"/>
<path d="M747.5 647 L744.5 650 L744.5 659 L747 661 L748.5 662.5 L752.5 663 L756.5 663.5 L750.5 649Z" stroke="#df5148" stroke-width="2.5" stroke-linejoin="round"/>
</g>
<!-- /ARROWS -->
<!-- TEXT -->
<g>
<text class="t" x="295.25" y="86" textLength="72.05" lengthAdjust="spacingAndGlyphs" style="stroke-width:0.77px">лоджия</text>
<text class="t" x="370.92" y="86" textLength="10.22" lengthAdjust="spacingAndGlyphs" style="stroke-width:0.90px">в</text>
<text class="t" x="386.31" y="86" textLength="91.20" lengthAdjust="spacingAndGlyphs" style="stroke-width:0.75px">спальной</text>
<text class="t" x="484.56" y="86" textLength="37.28" lengthAdjust="spacingAndGlyphs" style="stroke-width:1.05px">зоне</text>
<text class="t" x="563.43" y="67" textLength="80.36" lengthAdjust="spacingAndGlyphs" style="stroke-width:0.87px">большая</text>
<text class="t" x="648.19" y="67" textLength="66.85" lengthAdjust="spacingAndGlyphs" style="stroke-width:0.72px">мягкая</text>
<text class="t" x="720.53" y="67" textLength="40.78" lengthAdjust="spacingAndGlyphs" style="stroke-width:0.90px">зона</text>
<text class="t" x="937.56" y="70.5" textLength="71.33" lengthAdjust="spacingAndGlyphs" style="stroke-width:0.86px">детская</text>
<text class="t" x="1013.63" y="70.5" textLength="11.26" lengthAdjust="spacingAndGlyphs" style="stroke-width:0.61px">с</text>
<text class="t" x="1030.83" y="70.5" textLength="138.66" lengthAdjust="spacingAndGlyphs" style="stroke-width:0.79px">возможностью</text>
<text class="t" x="935.25" y="102.5" textLength="107.45" lengthAdjust="spacingAndGlyphs" style="stroke-width:0.81px">разместить</text>
<text class="t" x="1047.51" y="102.5" textLength="78.91" lengthAdjust="spacingAndGlyphs" style="stroke-width:0.76px">игровую</text>
<text class="t" x="1130.97" y="102.5" textLength="38.20" lengthAdjust="spacingAndGlyphs" style="stroke-width:0.96px">зону</text>
<text class="t" x="965.47" y="136.25" textLength="11.14" lengthAdjust="spacingAndGlyphs" style="stroke-width:0.84px">и</text>
<text class="t" x="980.91" y="136.25" textLength="103.36" lengthAdjust="spacingAndGlyphs" style="stroke-width:0.63px">шведскую</text>
<text class="t" x="1089.69" y="136.25" textLength="49.81" lengthAdjust="spacingAndGlyphs" style="stroke-width:1.14px">стенку</text>
<text class="t" x="73.15" y="261.25" textLength="150.78" lengthAdjust="spacingAndGlyphs" style="stroke-width:0.81px">мастер-спальня</text>
<text class="t" x="58.65" y="293.75" textLength="21.24" lengthAdjust="spacingAndGlyphs" style="stroke-width:0.84px">со</text>
<text class="t" x="84.07" y="293.75" textLength="53.98" lengthAdjust="spacingAndGlyphs" style="stroke-width:0.91px">своим</text>
<text class="t" x="141.92" y="293.75" textLength="95.36" lengthAdjust="spacingAndGlyphs" style="stroke-width:0.68px">санузлом</text>
<text class="t" x="247.70" y="751.5" textLength="53.67" lengthAdjust="spacingAndGlyphs" style="stroke-width:0.88px">место</text>
<text class="t" x="306.46" y="751.5" textLength="35.76" lengthAdjust="spacingAndGlyphs" style="stroke-width:0.75px">для</text>
<text class="t" x="345.84" y="751.5" textLength="109.13" lengthAdjust="spacingAndGlyphs" style="stroke-width:0.81px">стиральной</text>
<text class="t" x="259.17" y="784" textLength="11.13" lengthAdjust="spacingAndGlyphs" style="stroke-width:0.84px">и</text>
<text class="t" x="274.15" y="784" textLength="103.53" lengthAdjust="spacingAndGlyphs" style="stroke-width:0.82px">сушильной</text>
<text class="t" x="381.49" y="784" textLength="62.17" lengthAdjust="spacingAndGlyphs" style="stroke-width:0.86px">машин</text>
<text class="t" x="484.04" y="776.5" textLength="79.48" lengthAdjust="spacingAndGlyphs" style="stroke-width:0.89px">большая</text>
<text class="t" x="566.12" y="776.5" textLength="76.72" lengthAdjust="spacingAndGlyphs" style="stroke-width:0.83px">рабочая</text>
<text class="t" x="511.72" y="809" textLength="42.10" lengthAdjust="spacingAndGlyphs" style="stroke-width:0.84px">зона</text>
<text class="t" x="558.51" y="809" textLength="56.78" lengthAdjust="spacingAndGlyphs" style="stroke-width:0.64px">кухни</text>
<text class="t" x="677.79" y="795.25" textLength="74.80" lengthAdjust="spacingAndGlyphs" style="stroke-width:1.00px">глубокий</text>
<text class="t" x="755.65" y="795.25" textLength="59.66" lengthAdjust="spacingAndGlyphs" style="stroke-width:0.60px">шкаф</text>
<text class="t" x="820.23" y="795.25" textLength="36.40" lengthAdjust="spacingAndGlyphs" style="stroke-width:0.65px">при</text>
<text class="t" x="859.54" y="795.25" textLength="57.45" lengthAdjust="spacingAndGlyphs" style="stroke-width:0.71px">входе</text>
<text class="t r" x="825.13" y="746.5" textLength="73.40" lengthAdjust="spacingAndGlyphs" style="stroke-width:0.78px">грязная</text>
<text class="t r" x="902.99" y="746.5" textLength="41.42" lengthAdjust="spacingAndGlyphs" style="stroke-width:0.87px">зона</text>
<text class="t" x="944.13" y="562.5" textLength="74.17" lengthAdjust="spacingAndGlyphs" style="stroke-width:0.81px">санузел</text>
<text class="t" x="1023.01" y="562.5" textLength="20.55" lengthAdjust="spacingAndGlyphs" style="stroke-width:0.81px">за</text>
<text class="t" x="1048.73" y="562.5" textLength="105.35" lengthAdjust="spacingAndGlyphs" style="stroke-width:0.78px">пределами</text>
<text class="t" x="985.64" y="594.5" textLength="72.84" lengthAdjust="spacingAndGlyphs" style="stroke-width:0.80px">грязной</text>
<text class="t" x="1063.10" y="594.5" textLength="47.92" lengthAdjust="spacingAndGlyphs" style="stroke-width:0.74px">зоны</text>
<text class="t" x="946.65" y="702" textLength="85.94" lengthAdjust="spacingAndGlyphs" style="stroke-width:0.82px">гардероб</text>
<text class="t" x="1037.34" y="702" textLength="34.22" lengthAdjust="spacingAndGlyphs" style="stroke-width:0.83px">для</text>
<text class="t" x="1075.57" y="702" textLength="84.30" lengthAdjust="spacingAndGlyphs" style="stroke-width:0.90px">хранения</text>
<text class="t" x="977.73" y="734.4" textLength="88.29" lengthAdjust="spacingAndGlyphs" style="stroke-width:0.81px">сезонных</text>
<text class="t" x="1071.01" y="734.4" textLength="58.24" lengthAdjust="spacingAndGlyphs" style="stroke-width:0.89px">вещей</text>
</g>
<!-- /TEXT -->
</svg>
</body></html>
